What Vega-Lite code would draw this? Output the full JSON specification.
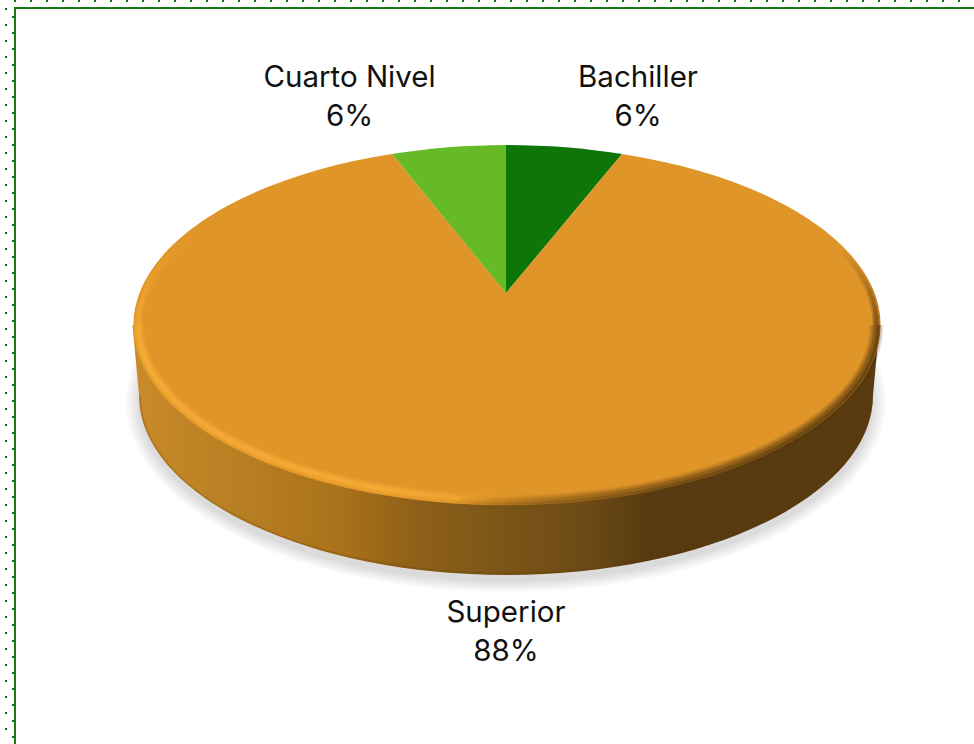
{
"$schema":"https://vega.github.io/schema/vega-lite/v6.json",
"width":974,"height":744,
"autosize":"none",
"padding":0,
"background":"white",
"config":{"view":{"stroke":null},"text":{"font":"Inter","fontSize":29.5,"fill":"#111111","baseline":"middle","align":"center"}},
"datasets":{
"shares":[
{"category":"Bachiller","share":0.06},
{"category":"Superior","share":0.88},
{"category":"Cuarto Nivel","share":0.06}],
"decor":[{"part":"decor"}]
},
"layer":[
{"data":{"name":"decor"},"mark":{"type":"point","filled":false,"size":4,"opacity":1,"strokeWidth":2,"stroke":"#107010","strokeDash":[2,14],"shape":"M-473,-371 L487,-371"}},
{"data":{"name":"decor"},"mark":{"type":"point","filled":false,"size":4,"opacity":1,"strokeWidth":2,"stroke":"#107010","strokeDash":[2,14],"shape":"M-481,-364 L-481,372"}},
{"data":{"name":"decor"},"mark":{"type":"point","filled":false,"size":4,"opacity":1,"strokeWidth":2,"stroke":"#1a7a1a","shape":"M-472,372 L-472,-364 L487,-364"}},
{"data":{"name":"decor"},"mark":{"type":"point","filled":false,"size":4,"opacity":1,"strokeWidth":2,"stroke":"#107010","strokeDash":[2,14],"shape":"M-474,-356 L-474,372"}},
{"data":{"name":"decor"},"mark":{"type":"point","filled":true,"size":4,"opacity":0.025,"fill":"#000000","stroke":null,"shape":"M-361,30 A380,190 0 1 0 399,30 A380,190 0 1 0 -361,30 Z"}},
{"data":{"name":"decor"},"mark":{"type":"point","filled":true,"size":4,"opacity":0.025,"fill":"#000000","stroke":null,"shape":"M-358.5,30 A377.5,188 0 1 0 396.5,30 A377.5,188 0 1 0 -358.5,30 Z"}},
{"data":{"name":"decor"},"mark":{"type":"point","filled":true,"size":4,"opacity":0.025,"fill":"#000000","stroke":null,"shape":"M-356,30 A375,186 0 1 0 394,30 A375,186 0 1 0 -356,30 Z"}},
{"data":{"name":"decor"},"mark":{"type":"point","filled":true,"size":4,"opacity":0.025,"fill":"#000000","stroke":null,"shape":"M-353.5,30 A372.5,184 0 1 0 391.5,30 A372.5,184 0 1 0 -353.5,30 Z"}},
{"data":{"name":"decor"},"mark":{"type":"point","filled":true,"size":4,"opacity":0.025,"fill":"#000000","stroke":null,"shape":"M-351,30 A370,182 0 1 0 389,30 A370,182 0 1 0 -351,30 Z"}},
{"data":{"name":"decor"},"mark":{"type":"point","filled":true,"size":4,"opacity":0.025,"fill":"#000000","stroke":null,"shape":"M-348.5,30 A367.5,180 0 1 0 386.5,30 A367.5,180 0 1 0 -348.5,30 Z"}},
{"data":{"name":"decor"},"mark":{"type":"point","filled":true,"size":4,"opacity":1,"stroke":null,
 "fill":{"gradient":"linear","x1":0,"y1":0,"x2":1,"y2":0,"stops":[
 {"offset":0,"color":"#c98a2a"},{"offset":0.16,"color":"#b67d22"},{"offset":0.28,"color":"#a97119"},{"offset":0.38,"color":"#8e6018"},{"offset":0.5,"color":"#7a5518"},{"offset":0.61,"color":"#6c4a15"},{"offset":0.69,"color":"#573a10"},{"offset":1,"color":"#5a3b10"}]},
 "shape":"M-354.5,-47 L-348,23 A367,180 0 0 0 386,23 L392.5,-47 Z"}},
{"data":{"name":"decor"},"mark":{"type":"point","filled":false,"size":4,"opacity":0.2,"strokeWidth":2,"stroke":"#5a3505","shape":"M-347,24 A366,177.5 0 0 0 385,24"}},
{"data":{"name":"shares"},"mark":{"type":"point","filled":true,"size":4,"opacity":1,"stroke":null},
 "encoding":{
 "shape":{"field":"category","type":"nominal","legend":null,"scale":{"domain":["Bachiller","Superior","Cuarto Nivel"],"range":["M19,-79 L19,-227 A373.5,180 0 0 1 135,-218 Z","M19,-79 L135,-218 A373.5,180 0 1 1 -95,-218 Z","M19,-79 L-95,-218 A373.5,180 0 0 1 19,-227 Z"]}},
 "color":{"field":"category","type":"nominal","legend":null,"scale":{"domain":["Bachiller","Superior","Cuarto Nivel"],"range":["#0e7508","#e09528","#65ba25"]}}
 }},
{"data":{"name":"decor"},"mark":{"type":"point","filled":false,"size":4,"opacity":0.1,"strokeWidth":12,"stroke":{"gradient":"linear","x1":0,"y1":0,"x2":1,"y2":0,"stops":[{"offset":0,"color":"#ffb43c"},{"offset":0.6,"color":"#ffb43c"},{"offset":0.97,"color":"rgba(255,180,60,0)"},{"offset":1,"color":"rgba(255,180,60,0)"}]},"shape":"M-348.5,-47 A367.5,174 0 0 0 79,124.7"}},
{"data":{"name":"decor"},"mark":{"type":"point","filled":false,"size":4,"opacity":0.14,"strokeWidth":10,"stroke":{"gradient":"linear","x1":0,"y1":0,"x2":1,"y2":0,"stops":[{"offset":0,"color":"#ffb43c"},{"offset":0.6,"color":"#ffb43c"},{"offset":0.97,"color":"rgba(255,180,60,0)"},{"offset":1,"color":"rgba(255,180,60,0)"}]},"shape":"M-348.5,-47 A367.5,174 0 0 0 79,124.7"}},
{"data":{"name":"decor"},"mark":{"type":"point","filled":false,"size":4,"opacity":0.18,"strokeWidth":8,"stroke":{"gradient":"linear","x1":0,"y1":0,"x2":1,"y2":0,"stops":[{"offset":0,"color":"#ffb43c"},{"offset":0.6,"color":"#ffb43c"},{"offset":0.97,"color":"rgba(255,180,60,0)"},{"offset":1,"color":"rgba(255,180,60,0)"}]},"shape":"M-348.5,-47 A367.5,174 0 0 0 79,124.7"}},
{"data":{"name":"decor"},"mark":{"type":"point","filled":false,"size":4,"opacity":0.24,"strokeWidth":6,"stroke":{"gradient":"linear","x1":0,"y1":0,"x2":1,"y2":0,"stops":[{"offset":0,"color":"#ffb43c"},{"offset":0.6,"color":"#ffb43c"},{"offset":0.97,"color":"rgba(255,180,60,0)"},{"offset":1,"color":"rgba(255,180,60,0)"}]},"shape":"M-348.5,-47 A367.5,174 0 0 0 79,124.7"}},
{"data":{"name":"decor"},"mark":{"type":"point","filled":false,"size":4,"opacity":0.35,"strokeWidth":3.5,"stroke":{"gradient":"linear","x1":0,"y1":0,"x2":1,"y2":0,"stops":[{"offset":0,"color":"#ffb43c"},{"offset":0.6,"color":"#ffb43c"},{"offset":0.97,"color":"rgba(255,180,60,0)"},{"offset":1,"color":"rgba(255,180,60,0)"}]},"shape":"M-348.5,-47 A367.5,174 0 0 0 79,124.7"}},
{"data":{"name":"decor"},"mark":{"type":"point","filled":false,"size":4,"opacity":0.25,"strokeWidth":8,"stroke":{"gradient":"linear","x1":0,"y1":0,"x2":0,"y2":1,"stops":[{"offset":0,"color":"rgba(255,180,60,0)"},{"offset":1,"color":"#ffb43c"}]},"shape":"M-282,-147 A367.5,174 0 0 0 -348.5,-47"}},
{"data":{"name":"decor"},"mark":{"type":"point","filled":false,"size":4,"opacity":0.35,"strokeWidth":4,"stroke":{"gradient":"linear","x1":0,"y1":0,"x2":0,"y2":1,"stops":[{"offset":0,"color":"rgba(255,180,60,0)"},{"offset":1,"color":"#ffb43c"}]},"shape":"M-282,-147 A367.5,174 0 0 0 -348.5,-47"}},
{"data":{"name":"decor"},"mark":{"type":"point","filled":false,"size":4,"opacity":0.12,"strokeWidth":14,"stroke":{"gradient":"linear","x1":0,"y1":0,"x2":1,"y2":0,"stops":[{"offset":0,"color":"rgba(95,62,16,0)"},{"offset":0.3,"color":"#7a5015"},{"offset":0.5,"color":"#5f3e10"},{"offset":1,"color":"#4d320c"}]},"shape":"M-30,128.4 A370.5,177 0 0 0 389.5,-47"}},
{"data":{"name":"decor"},"mark":{"type":"point","filled":false,"size":4,"opacity":0.16,"strokeWidth":11,"stroke":{"gradient":"linear","x1":0,"y1":0,"x2":1,"y2":0,"stops":[{"offset":0,"color":"rgba(95,62,16,0)"},{"offset":0.3,"color":"#7a5015"},{"offset":0.5,"color":"#5f3e10"},{"offset":1,"color":"#4d320c"}]},"shape":"M-30,128.4 A370.5,177 0 0 0 389.5,-47"}},
{"data":{"name":"decor"},"mark":{"type":"point","filled":false,"size":4,"opacity":0.22,"strokeWidth":8,"stroke":{"gradient":"linear","x1":0,"y1":0,"x2":1,"y2":0,"stops":[{"offset":0,"color":"rgba(95,62,16,0)"},{"offset":0.3,"color":"#7a5015"},{"offset":0.5,"color":"#5f3e10"},{"offset":1,"color":"#4d320c"}]},"shape":"M-30,128.4 A370.5,177 0 0 0 389.5,-47"}},
{"data":{"name":"decor"},"mark":{"type":"point","filled":false,"size":4,"opacity":0.3,"strokeWidth":5,"stroke":{"gradient":"linear","x1":0,"y1":0,"x2":1,"y2":0,"stops":[{"offset":0,"color":"rgba(95,62,16,0)"},{"offset":0.3,"color":"#7a5015"},{"offset":0.5,"color":"#5f3e10"},{"offset":1,"color":"#4d320c"}]},"shape":"M-30,128.4 A370.5,177 0 0 0 389.5,-47"}},
{"data":{"name":"decor"},"mark":{"type":"point","filled":false,"size":4,"opacity":0.5,"strokeWidth":3,"stroke":{"gradient":"linear","x1":0,"y1":0,"x2":1,"y2":0,"stops":[{"offset":0,"color":"rgba(95,62,16,0)"},{"offset":0.3,"color":"#7a5015"},{"offset":0.5,"color":"#5f3e10"},{"offset":1,"color":"#4d320c"}]},"shape":"M-30,130.4 A372.5,179 0 0 0 391.5,-47"}},
{"data":{"name":"decor"},"mark":{"type":"point","filled":false,"size":4,"opacity":0.3,"strokeWidth":8,"stroke":{"gradient":"linear","x1":0,"y1":0,"x2":0,"y2":1,"stops":[{"offset":0,"color":"rgba(77,50,12,0)"},{"offset":1,"color":"#4d320c"}]},"shape":"M389.5,-47 A370.5,177 0 0 0 354.7,-121.9"}},
{"data":{"name":"decor"},"mark":{"type":"point","filled":false,"size":4,"opacity":0.45,"strokeWidth":4,"stroke":{"gradient":"linear","x1":0,"y1":0,"x2":0,"y2":1,"stops":[{"offset":0,"color":"rgba(77,50,12,0)"},{"offset":1,"color":"#4d320c"}]},"shape":"M389.5,-47 A370.5,177 0 0 0 354.7,-121.9"}},
{"data":{"name":"shares"},"transform":[{"filter":"datum.category==='Cuarto Nivel'"}],"mark":{"type":"text","dx":-137.5,"dy":-294},"encoding":{"text":{"field":"category"}}},
{"data":{"name":"shares"},"transform":[{"filter":"datum.category==='Cuarto Nivel'"}],"mark":{"type":"text","dx":-137.5,"dy":-255},"encoding":{"text":{"field":"share","format":".0%"}}},
{"data":{"name":"shares"},"transform":[{"filter":"datum.category==='Bachiller'"}],"mark":{"type":"text","dx":151,"dy":-294},"encoding":{"text":{"field":"category"}}},
{"data":{"name":"shares"},"transform":[{"filter":"datum.category==='Bachiller'"}],"mark":{"type":"text","dx":151,"dy":-255},"encoding":{"text":{"field":"share","format":".0%"}}},
{"data":{"name":"shares"},"transform":[{"filter":"datum.category==='Superior'"}],"mark":{"type":"text","dx":19,"dy":241},"encoding":{"text":{"field":"category"}}},
{"data":{"name":"shares"},"transform":[{"filter":"datum.category==='Superior'"}],"mark":{"type":"text","dx":19,"dy":280},"encoding":{"text":{"field":"share","format":".0%"}}}
]
}
